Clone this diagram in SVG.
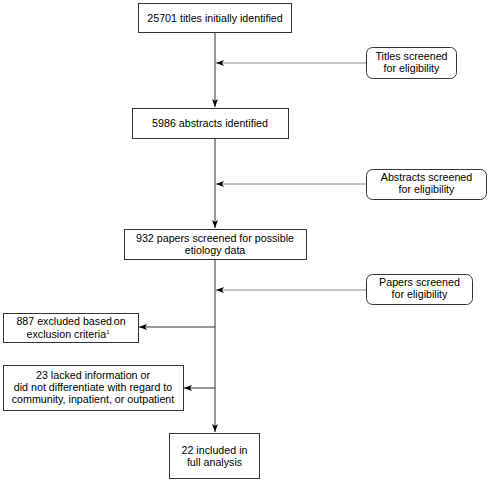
<svg xmlns="http://www.w3.org/2000/svg" width="490" height="482" viewBox="0 0 490 482">
<defs>
<marker id="ah" markerWidth="8" markerHeight="6" refX="8" refY="3" orient="auto" markerUnits="userSpaceOnUse">
<path d="M0,0 L8,3 L0,6 L2,3 Z" fill="#000"/>
</marker>
<style>
.box{fill:#fff;stroke:#333;stroke-width:1}
.rbox{fill:#fff;stroke:#333;stroke-width:1}
.t{font-family:"Liberation Sans",Arial,sans-serif;font-size:10.7px;fill:#000;text-anchor:middle}
.ln{stroke:#333;stroke-width:1;fill:none}
.gl{stroke:#888;stroke-width:1;fill:none}
</style>
</defs>
<rect width="490" height="482" fill="#fff"/>
<g id="connectors">
<line class="ln" x1="215" y1="32" x2="215" y2="107" marker-end="url(#ah)"/>
<line class="ln" x1="215" y1="138" x2="215" y2="228" marker-end="url(#ah)"/>
<line class="ln" x1="215" y1="259" x2="215" y2="432" marker-end="url(#ah)"/>
<line class="gl" x1="366" y1="63" x2="216" y2="63" marker-end="url(#ah)"/>
<line class="gl" x1="366" y1="184" x2="216" y2="184" marker-end="url(#ah)"/>
<line class="gl" x1="366" y1="290" x2="216" y2="290" marker-end="url(#ah)"/>
<line class="ln" x1="215" y1="327" x2="139" y2="327" marker-end="url(#ah)"/>
<line class="ln" x1="215" y1="388" x2="184" y2="388" marker-end="url(#ah)"/>
</g>
<g id="n1"><rect class="box" x="138.5" y="3.5" width="153" height="29"/><text class="t" x="215" y="21.5">25701 titles initially identified</text></g>
<g id="n2"><rect class="box" x="132.5" y="108.5" width="156" height="30"/><text class="t" x="210" y="127">5986 abstracts identified</text></g>
<g id="n3"><rect class="box" x="124.5" y="229.5" width="182" height="30"/><text class="t" x="215" y="241.5">932 papers screened for possible</text><text class="t" x="215" y="253.5">etiology data</text></g>
<g id="n4"><rect class="box" x="3.5" y="313.5" width="135" height="29"/><text class="t" x="71" y="325"><tspan>887 excluded based</tspan><tspan font-size="6">,</tspan><tspan>on</tspan></text><text class="t" x="68" y="337.5"><tspan>exclusion criteria</tspan><tspan font-size="6" dy="-4">1</tspan></text></g>
<g id="n5"><rect class="box" x="3.5" y="365.5" width="180" height="45"/><text class="t" x="93" y="379">23 lacked information or</text><text class="t" x="93" y="391">did not differentiate with regard to</text><text class="t" x="93" y="403">community, inpatient, or outpatient</text></g>
<g id="n6"><rect class="box" x="169.5" y="433.5" width="90" height="45"/><text class="t" x="214.5" y="454">22 included in</text><text class="t" x="214.5" y="466">full analysis</text></g>
<g id="s1"><rect class="rbox" x="366.5" y="47.5" width="90" height="31" rx="6"/><text class="t" x="411.5" y="60">Titles screened</text><text class="t" x="411.5" y="72">for eligibility</text></g>
<g id="s2"><rect class="rbox" x="366.5" y="169.5" width="120" height="30" rx="6"/><text class="t" x="426.5" y="181">Abstracts screened</text><text class="t" x="426.5" y="193">for eligibility</text></g>
<g id="s3"><rect class="rbox" x="366.5" y="274.5" width="106" height="30" rx="6"/><text class="t" x="419.5" y="286">Papers screened</text><text class="t" x="419.5" y="298">for eligibility</text></g>
</svg>
